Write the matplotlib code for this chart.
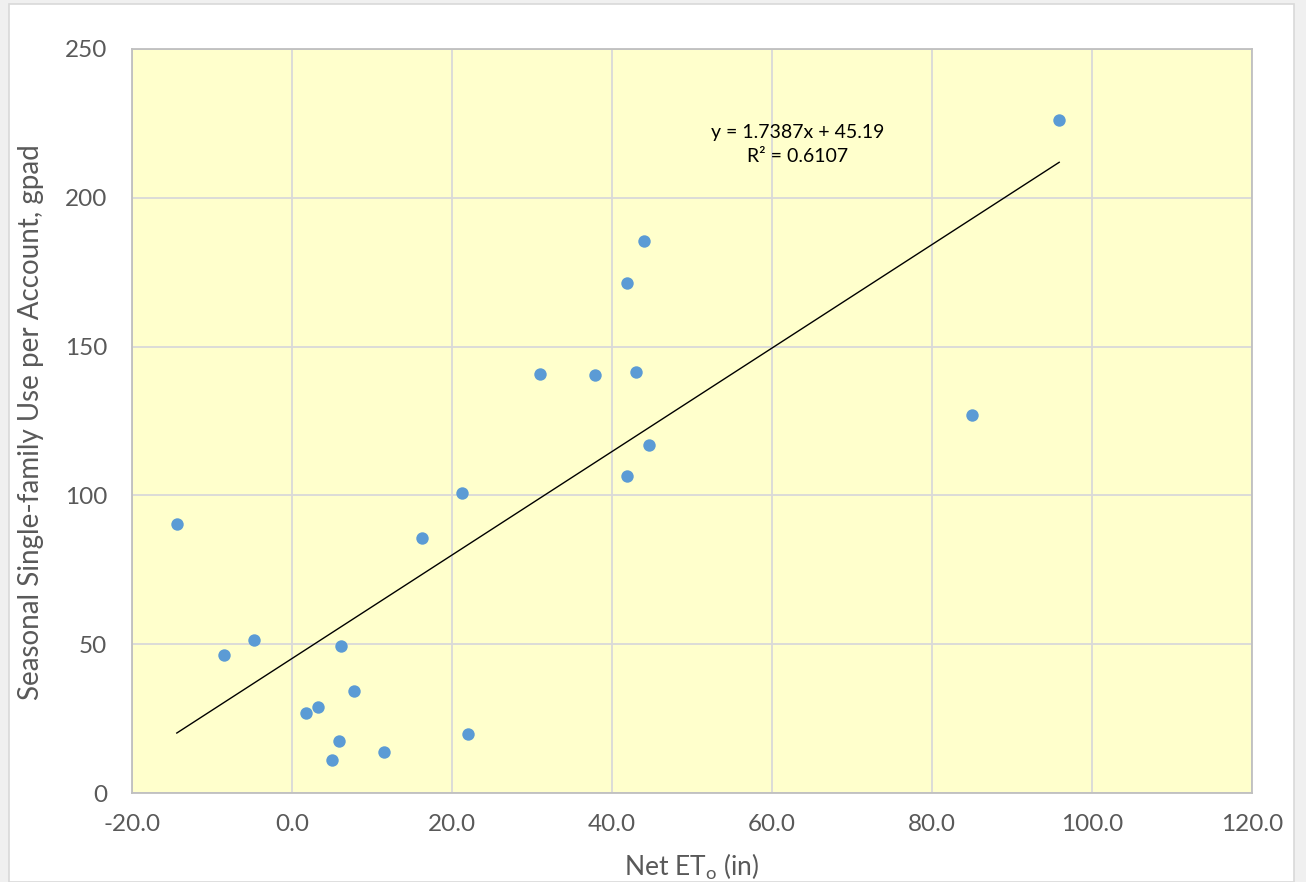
import matplotlib
matplotlib.use("Agg")
import matplotlib.pyplot as plt
from matplotlib.patches import Rectangle
import numpy as np

plt.rcParams['font.family'] = ['Lato', 'DejaVu Sans']

net_eto = [-14.4, -8.5, -4.75, 6.1, 7.8, 3.2, 1.8, 5.9, 5.0, 11.5, 22.0, 16.3, 21.3,
           31.0, 37.9, 43.0, 41.9, 44.0, 41.9, 44.6, 85.0, 95.9]
use_gpad = [90.3, 46.5, 51.4, 49.5, 34.3, 29.0, 26.8, 17.5, 11.0, 13.9, 19.7, 85.8, 100.9,
            140.8, 140.5, 141.5, 171.4, 185.5, 106.5, 116.9, 127.0, 226.1]
slope = 1.7387
intercept = 45.19
r2 = 0.6107
x_ticks = [-20, 0, 20, 40, 60, 80, 100, 120]
y_ticks = [0, 50, 100, 150, 200, 250]

W, H = 1306, 882
fig = plt.figure(figsize=(W / 100, H / 100), dpi=100)
fig.patch.set_facecolor('#f0f0f0')
fig.patches.append(Rectangle((9 / W, 0), (1294 - 9) / W, (H - 4) / H, transform=fig.transFigure,
                             facecolor='white', edgecolor='#d9d9d9', linewidth=1.2, zorder=-5))

ax = fig.add_axes([132 / W, 1 - 793 / H, (1252 - 132) / W, (793 - 49) / H])
ax.set_zorder(1)
ax.set_facecolor('#FFFFCC')
ax.set_xlim(-20, 120)
ax.set_ylim(0, 250)
ax.set_xticks(x_ticks)
ax.set_xticklabels([f"{v:.1f}" for v in x_ticks])
ax.set_yticks(y_ticks)
ax.grid(True, color='#d9d9d9', linewidth=1.3)
ax.set_axisbelow(True)
for s in ax.spines.values():
    s.set_color('#bfbfbf')
    s.set_linewidth(1.3)
ax.tick_params(length=0, labelsize=17.5, colors='#595959')
ax.tick_params(axis='y', pad=18)
ax.tick_params(axis='x', pad=15)

ax.scatter(net_eto, use_gpad, s=80, color='#5B9BD5', zorder=3, linewidths=0)
xs = np.array([min(net_eto), max(net_eto)])
ax.plot(xs, slope * xs + intercept, color='black', linewidth=1.0, zorder=2)

ax.text(0.594, 0.8717, f"y = {slope}x + {intercept}\nR² = {r2}", transform=ax.transAxes,
        ha='center', va='center', fontsize=14, color='black', linespacing=1.55)

ax.set_xlabel("Net ET$_\\mathregular{o}$ (in)", fontsize=19, color='#595959')
ax.set_ylabel("Seasonal Single-family Use per Account, gpad", fontsize=20, color='#595959')
ax.xaxis.set_label_coords((692 - 132) / 1120, (793 - 851) / 744)
ax.yaxis.set_label_coords((44 - 132) / 1120, 0.5 - (422 - (49 + 793) / 2) / 744)

fig.savefig("out.png", dpi=100, facecolor=fig.get_facecolor())
